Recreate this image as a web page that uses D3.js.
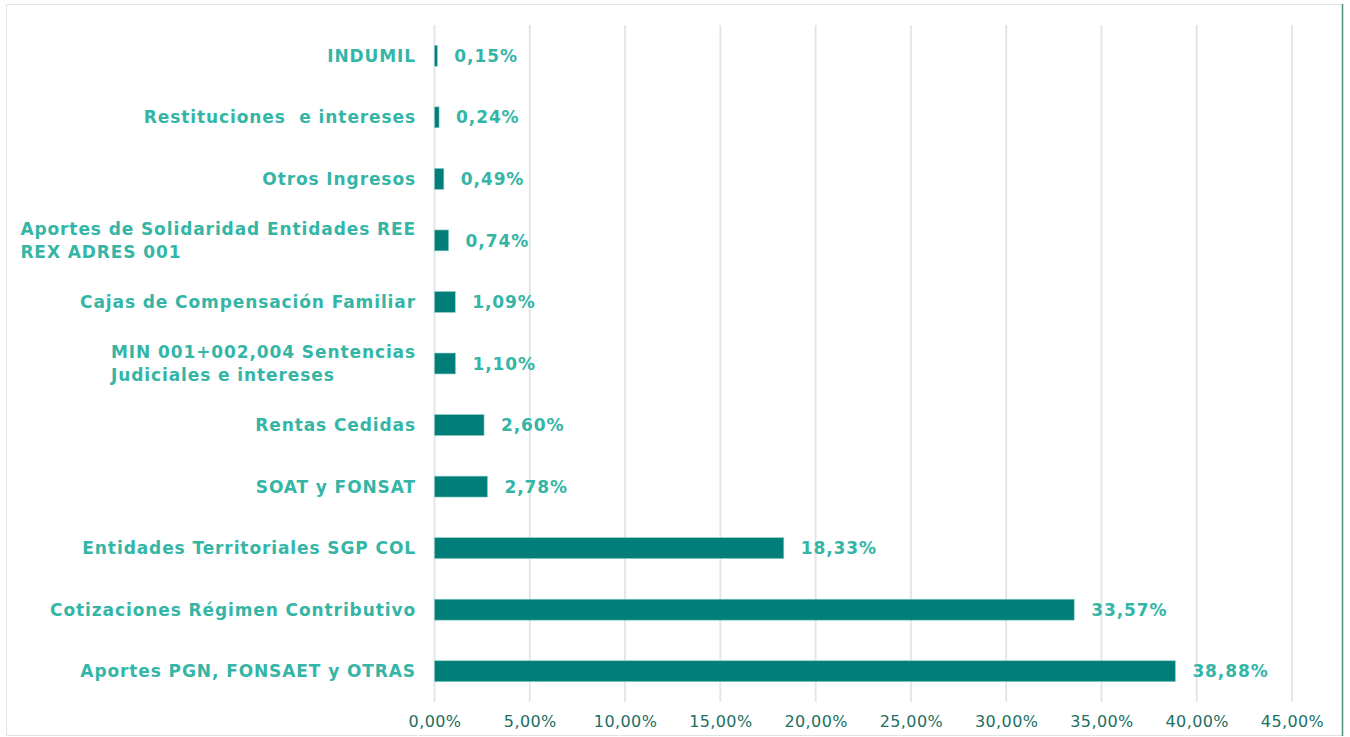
<!DOCTYPE html>
<html><head><meta charset="utf-8">
<script src="https://cdn.jsdelivr.net/npm/d3@7"></script>
<style>
html,body{margin:0;padding:0;background:#fff;}
svg{display:block;font-family:"DejaVu Sans",Verdana,sans-serif;}
text{white-space:pre;}
</style></head>
<body><svg id="c" width="1350" height="737"></svg>
<script>
const categories = [
  ["INDUMIL"],
  ["Restituciones  e intereses"],
  ["Otros Ingresos"],
  ["Aportes de Solidaridad Entidades REE", "REX ADRES 001"],
  ["Cajas de Compensación Familiar"],
  ["MIN 001+002,004 Sentencias", "Judiciales e intereses"],
  ["Rentas Cedidas"],
  ["SOAT y FONSAT"],
  ["Entidades Territoriales SGP COL"],
  ["Cotizaciones Régimen Contributivo"],
  ["Aportes PGN, FONSAET y OTRAS"]
];
const values = [0.15, 0.24, 0.49, 0.74, 1.09, 1.10, 2.60, 2.78, 18.33, 33.57, 38.88];
const ticks = [0, 5, 10, 15, 20, 25, 30, 35, 40, 45];

const svg = d3.select("#c");
const fmt = v => v.toFixed(2).replace(".", ",") + "%";

// frame
svg.append("rect").attr("x", 6.5).attr("y", 4.5).attr("width", 1336).attr("height", 731)
  .attr("fill", "none").attr("stroke", "#dde6e3").attr("stroke-width", 1);
svg.append("line").attr("x1", 1342.5).attr("x2", 1342.5).attr("y1", 4).attr("y2", 736)
  .attr("stroke", "#4f8f78").attr("stroke-width", 1.5);

const x = d3.scaleLinear().domain([0, 45]).range([434.5, 1292]);
const y = d3.scaleBand().domain(d3.range(categories.length)).range([25, 702]).paddingInner(0.66).paddingOuter(0.33);

// grid
svg.append("g").selectAll("line").data(ticks).join("line")
  .attr("x1", d => x(d)).attr("x2", d => x(d)).attr("y1", 25).attr("y2", 702)
  .attr("stroke", "#e1e8e6").attr("stroke-width", 2);

// x axis labels
const xa = svg.append("g").attr("transform", "translate(0,702)")
  .call(d3.axisBottom(x).tickValues(ticks).tickSize(0).tickPadding(14).tickFormat(fmt));
xa.select(".domain").remove();
xa.selectAll("text").attr("font-size", 16).attr("letter-spacing", 0.4)
  .attr("fill", "#1d6f63").attr("font-family", '"DejaVu Sans",Verdana,sans-serif');

// bars
svg.append("g").selectAll("rect").data(values).join("rect")
  .attr("x", x(0)).attr("y", (d, i) => y(i))
  .attr("width", d => x(d) - x(0)).attr("height", y.bandwidth())
  .attr("fill", "#017e7a").attr("stroke", "#8fcdc6").attr("stroke-width", 0.6);

// value labels
svg.append("g").selectAll("text").data(values).join("text")
  .attr("x", d => x(d) + 17).attr("y", (d, i) => y(i) + y.bandwidth() / 2)
  .attr("dy", "0.36em").attr("font-size", 17).attr("letter-spacing", 0.9).attr("font-weight", "bold")
  .attr("fill", "#35b5a6").text(fmt);

// category labels
const cl = svg.append("g").selectAll("text").data(categories).join("text")
  .attr("y", (d, i) => y(i) + y.bandwidth() / 2 - (d.length - 1) * 11.5)
  .attr("font-size", 17).attr("letter-spacing", 0.9).attr("font-weight", "bold")
  .attr("fill", "#35b5a6");
cl.each(function(d) {
  const t = d3.select(this);
  const spans = d.map((line, j) => t.append("tspan").attr("dy", j === 0 ? "0.36em" : "23px").text(line));
  const w = d3.max(spans, s => s.node().getComputedTextLength());
  spans.forEach(s => s.attr("x", 416 - w));
});
</script></body></html>
